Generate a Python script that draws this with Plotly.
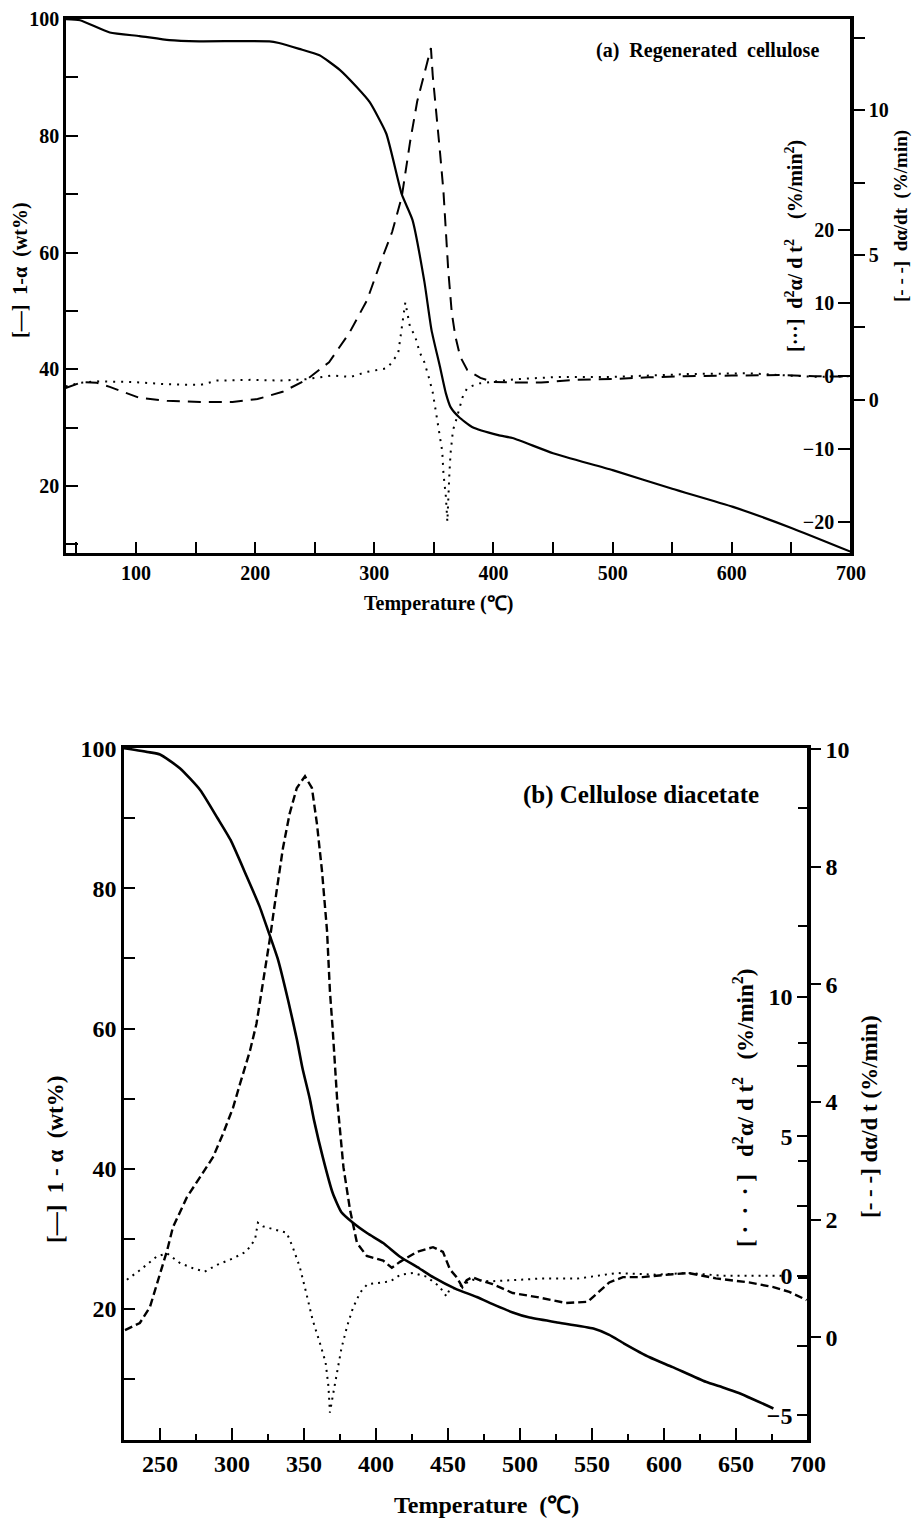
import plotly.graph_objects as go

# ---------------- data: (a) Regenerated cellulose ----------------
a_temp_tg = [41, 53, 78, 103, 128, 153, 212, 220, 237, 254, 271, 285, 296, 310, 323, 332, 342, 348, 355, 360, 364, 371, 382, 404, 416, 450, 500, 550, 601, 650, 700]
a_mass = [100, 99.8, 97.7, 97.1, 96.4, 96.2, 96.2, 95.9, 94.9, 93.8, 91.3, 88.4, 85.8, 80.4, 70.0, 65.6, 55.0, 46.7, 40.5, 35.9, 33.5, 31.8, 30.1, 28.7, 28.2, 25.6, 22.7, 19.5, 16.4, 12.8, 8.7]

a_temp_dtg = [41, 55, 67, 78, 103, 126, 154, 181, 202, 223, 243, 262, 279, 294, 305, 315, 323, 330, 336, 342, 347.5, 349, 352, 355, 358, 360, 362, 365, 368, 372, 378, 389, 400, 420, 440, 470, 500, 530, 560, 600, 640, 670, 700]
a_dtg = [0.41, 0.62, 0.59, 0.45, 0.07, -0.03, -0.07, -0.07, 0.03, 0.28, 0.69, 1.3, 2.31, 3.45, 4.72, 5.8, 7.0, 8.9, 10.3, 11.3, 12.14, 11.2, 10.0, 8.6, 7.2, 5.9, 4.5, 3.0, 2.2, 1.5, 1.03, 0.76, 0.62, 0.6, 0.6, 0.7, 0.72, 0.78, 0.82, 0.84, 0.86, 0.82, 0.8]

a_temp_d2 = [41, 53, 67, 97, 126, 154, 168, 196, 223, 243, 265, 280, 294, 311, 320, 326, 330, 334, 338, 342, 346, 349, 352, 354, 357, 358, 360, 361.3, 362, 363, 364, 366, 369, 372, 374, 378, 387, 397, 419, 455, 500, 564, 614, 647, 673, 700]
a_d2 = [-1.4, -0.9, -0.7, -0.8, -1.1, -1.2, -0.6, -0.5, -0.6, -0.4, 0.1, -0.1, 0.6, 1.1, 3.1, 10.1, 6.7, 5.6, 3.3, 1.9, -0.3, -2.2, -5.2, -7.3, -10.3, -13.3, -16.4, -19.9, -16.3, -13.3, -10.5, -7.4, -5.8, -4.2, -2.9, -1.6, -1.0, -0.8, -0.4, -0.1, -0.1, 0.3, 0.4, 0.1, -0.1, 0.0]

# ---------------- data: (b) Cellulose diacetate ----------------
b_temp_tg = [225, 243, 250, 264, 278, 290, 299, 310, 319, 325, 332, 339, 345, 349, 354, 357, 363, 370, 376, 384, 394, 405, 417, 430, 440, 455, 470, 483, 495, 506, 525, 551, 562, 572, 590, 606, 629, 641, 652, 676]
b_mass = [100, 99.4, 99.1, 97.1, 94.0, 90.0, 86.9, 81.8, 77.5, 74.0, 69.8, 64.0, 58.5, 54.3, 50.0, 46.9, 41.7, 36.5, 33.8, 32.3, 30.8, 29.4, 27.4, 25.8, 24.5, 22.9, 21.7, 20.5, 19.5, 18.8, 18.1, 17.2, 16.3, 15.1, 13.1, 11.7, 9.6, 8.8, 8.0, 5.8]

b_temp_dtg = [225.7, 236, 243, 248.6, 255, 259, 268.7, 277.8, 286.8, 293.8, 300.7, 305.6, 312.5, 317, 321.5, 326.4, 331, 335.4, 340, 345, 350.7, 355.5, 359, 362.5, 366, 368, 370, 373, 377.4, 382, 386.8, 393.6, 405, 411, 416.7, 428.5, 439.6, 446.5, 451.4, 456, 460, 463, 467, 472, 481, 495, 512, 532, 547, 555, 562, 571.5, 585, 606, 617, 636, 659, 676, 687, 699]
b_dtg = [0.12, 0.24, 0.51, 0.97, 1.48, 1.87, 2.38, 2.72, 3.06, 3.46, 3.9, 4.31, 4.87, 5.33, 6.0, 6.79, 7.59, 8.32, 8.9, 9.34, 9.54, 9.34, 8.73, 7.93, 6.91, 5.89, 5.21, 4.05, 2.89, 2.16, 1.6, 1.38, 1.3, 1.18, 1.28, 1.45, 1.53, 1.45, 1.15, 1.02, 0.85, 0.97, 1.02, 0.97, 0.9, 0.75, 0.68, 0.58, 0.6, 0.77, 0.93, 1.02, 1.02, 1.07, 1.09, 1.0, 0.93, 0.85, 0.77, 0.63]

b_temp_d2 = [227, 236, 248, 255, 264, 273, 281, 290, 301, 310, 316, 318, 321.5, 331, 338, 342, 347, 351.5, 356, 361, 365, 367, 368, 370, 373, 376, 380, 384, 389, 394, 403, 410, 417, 426, 435, 444, 449, 451, 458, 467, 479, 502, 514, 540, 567, 594, 617, 641, 664, 685]
b_d2 = [-0.14, 0.2, 0.7, 0.8, 0.45, 0.27, 0.15, 0.4, 0.63, 0.87, 1.3, 1.9, 1.77, 1.65, 1.54, 1.05, 0.33, -0.6, -1.58, -2.4, -3.1, -3.97, -4.9, -4.3, -3.5, -2.6, -1.8, -1.15, -0.6, -0.3, -0.25, -0.2, 0.04, 0.1, -0.03, -0.38, -0.74, -0.5, -0.38, -0.14, -0.2, -0.14, -0.1, -0.1, 0.1, 0.04, 0.1, 0.0, 0.0, 0.0]

# tick labels
a_x_ticks = [100, 200, 300, 400, 500, 600, 700]
b_x_ticks = [250, 300, 350, 400, 450, 500, 550, 600, 650, 700]

# ---------------- layout helpers ----------------
W, H = 912, 1520
SERIF = "Liberation Serif, Times New Roman, serif"


def pxx(x):
    return x / W


def pyy(y):
    return 1 - y / H


def tfont(size):
    return dict(family=SERIF, size=size, color="black", weight="bold")


fig = go.Figure()

# top panel traces
fig.add_trace(go.Scatter(x=a_temp_tg, y=a_mass, mode="lines", xaxis="x", yaxis="y",
                         line=dict(color="black", width=2.2, shape="spline", smoothing=0.5)))
fig.add_trace(go.Scatter(x=a_temp_d2, y=a_d2, mode="lines", xaxis="x", yaxis="y2",
                         line=dict(color="black", width=2, dash="2px,6px")))
fig.add_trace(go.Scatter(x=a_temp_dtg, y=a_dtg, mode="lines", xaxis="x", yaxis="y3",
                         line=dict(color="black", width=2, dash="13px,8px")))

# bottom panel traces
fig.add_trace(go.Scatter(x=b_temp_tg, y=b_mass, mode="lines", xaxis="x2", yaxis="y4",
                         line=dict(color="black", width=2.6, shape="spline", smoothing=0.5)))
fig.add_trace(go.Scatter(x=b_temp_d2, y=b_d2, mode="lines", xaxis="x2", yaxis="y5",
                         line=dict(color="black", width=2, dash="2px,5px")))
fig.add_trace(go.Scatter(x=b_temp_dtg, y=b_dtg, mode="lines", xaxis="x2", yaxis="y6",
                         line=dict(color="black", width=2.4, dash="8px,4px")))

axis_common = dict(showgrid=False, zeroline=False, showline=True, linecolor="black",
                   linewidth=2.5, tickcolor="black", tickwidth=2)

top_dom_x = [pxx(66), pxx(851)]
top_dom_y = [pyy(553), pyy(19)]
bot_dom_x = [pxx(124), pxx(808)]
bot_dom_y = [pyy(1440), pyy(748)]

fig.update_layout(
    width=W, height=H, margin=dict(l=0, r=0, t=0, b=0),
    paper_bgcolor="white", plot_bgcolor="white", showlegend=False,
    template="none",
    xaxis=dict(domain=top_dom_x, anchor="y", range=[41.26, 700.02], tickvals=a_x_ticks,
               ticks="inside", ticklen=11, mirror=True, tickfont=tfont(20),
               minor=dict(tickvals=[50, 150, 250, 350, 450, 550, 650], ticks="inside",
                          ticklen=11, tickwidth=2, tickcolor="black"),
               **axis_common),
    yaxis=dict(domain=top_dom_y, anchor="x", range=[8.5, 100.02], tickvals=[20, 40, 60, 80, 100],
               ticks="inside", ticklen=12, tickfont=tfont(20),
               minor=dict(tickvals=[10, 30, 50, 70, 90], ticks="inside", ticklen=12,
                          tickwidth=2, tickcolor="black"),
               **axis_common),
    # d2 axis: drawn on the right edge, but ticks and labels face into the plot
    yaxis2=dict(overlaying="y", anchor="free", side="left", position=pxx(851),
                range=[-24.2, 48.9], tickvals=[-20, -10, 0, 10, 20], ticks="outside",
                ticklen=12, tickfont=tfont(20), **axis_common),
    yaxis3=dict(overlaying="y", anchor="x", side="right", range=[-5.28, 13.14],
                tickvals=[0, 5, 10], ticks="outside", ticklen=11, tickfont=tfont(20),
                minor=dict(tickvals=[2.5, 7.5, 12.5], ticks="outside", ticklen=11,
                           tickwidth=2, tickcolor="black"),
                **axis_common),
    xaxis2=dict(domain=bot_dom_x, anchor="y4", range=[225, 700.02], tickvals=b_x_ticks,
                ticks="inside", ticklen=12, mirror=True, tickfont=tfont(24),
                minor=dict(tickvals=[275, 325, 375, 425, 475, 525, 575, 625, 675],
                           ticks="inside", ticklen=6, tickwidth=2, tickcolor="black"),
                **axis_common),
    yaxis4=dict(domain=bot_dom_y, anchor="x2", range=[1.3, 100.02], tickvals=[20, 40, 60, 80, 100],
                ticks="inside", ticklen=11, tickfont=tfont(24),
                minor=dict(tickvals=[10, 30, 50, 70, 90], ticks="inside", ticklen=11,
                           tickwidth=2, tickcolor="black"),
                **axis_common),
    yaxis5=dict(overlaying="y4", anchor="free", side="left", position=pxx(808),
                range=[-5.88, 18.9], tickvals=[-5, 0, 5, 10], ticks="outside", ticklen=10,
                tickfont=tfont(24),
                minor=dict(tickvals=[-2.5, 2.5, 7.5], ticks="outside", ticklen=10,
                           tickwidth=2, tickcolor="black"),
                **axis_common),
    yaxis6=dict(overlaying="y4", anchor="x2", side="right", range=[-1.75, 10.02],
                tickvals=[0, 2, 4, 6, 8, 10], ticks="outside", ticklen=10, tickfont=tfont(24),
                minor=dict(tickvals=[1, 3, 5, 7, 9], ticks="inside", ticklen=10,
                           tickwidth=2, tickcolor="black"),
                **axis_common),
)


def ann(text, x, y, size, angle=0, xanchor="center"):
    fig.add_annotation(text=text, x=pxx(x), y=pyy(y), xref="paper", yref="paper",
                       showarrow=False, textangle=angle, xanchor=xanchor, yanchor="middle",
                       font=dict(family=SERIF, size=size, color="black", weight="bold"))


# top panel texts
ann("(a)  Regenerated  cellulose", 821, 50, 20, xanchor="right")
ann("Temperature (\u2103)", 438, 603, 20)
ann("[\u2014]  1-\u03b1  (wt%)", 21, 270, 20, angle=-90)
ann("[\u00b7\u00b7\u00b7]  d<sup>2</sup>\u03b1/ d t<sup>2</sup>    (%/min<sup>2</sup>)", 794, 246, 20, angle=-90)
ann("[- - -]  d\u03b1/dt  (%/min)", 901, 216, 19, angle=-90)

# bottom panel texts
ann("(b) Cellulose diacetate", 761, 795, 25, xanchor="right")
ann("Temperature  (\u2103)", 487, 1505, 24)
ann("[\u2014]  1 - \u03b1  (wt%)", 55, 1160, 23, angle=-90)
ann("[ \u00b7  \u00b7  \u00b7 ]   d<sup>2</sup>\u03b1/ d t<sup>2</sup>   (%/min<sup>2</sup>)", 743, 1108, 23, angle=-90)
ann("[- - -] d\u03b1/d t (%/min)", 869, 1117, 23, angle=-90)

fig.write_html("out.html", config={"displayModeBar": False},
               post_script="document.body.style.margin='0px';document.body.style.padding='0px';")
